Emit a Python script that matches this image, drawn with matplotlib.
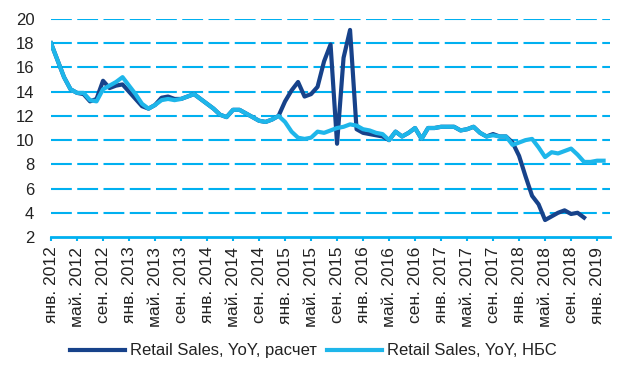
import matplotlib
matplotlib.use('Agg')
from matplotlib import pyplot as plt
import numpy as np

plt.rcParams['font.family'] = ['Liberation Sans', 'DejaVu Sans']

# monthly values, Jan 2012 onwards
nbs = [18.0, 16.6, 15.2, 14.2, 13.9, 13.9, 13.3, 13.2, 14.2, 14.5, 14.8, 15.2,
       14.5, 13.8, 13.0, 12.6, 12.9, 13.3, 13.4, 13.3, 13.4, 13.6, 13.8, 13.4,
       13.0, 12.6, 12.1, 11.9, 12.5, 12.5, 12.2, 11.9, 11.6, 11.5, 11.7, 12.0,
       11.5, 10.7, 10.2, 10.1, 10.2, 10.7, 10.6, 10.8, 11.0, 11.1, 11.3, 11.2,
       10.9, 10.8, 10.6, 10.5, 10.0, 10.7, 10.3, 10.6, 11.0, 10.1, 11.0, 11.0,
       11.1, 11.1, 11.1, 10.8, 10.9, 11.1, 10.6, 10.3, 10.4, 10.3, 10.3, 9.6,
       9.8, 10.0, 10.1, 9.4, 8.6, 9.0, 8.9, 9.1, 9.3, 8.8, 8.2, 8.2,
       8.3, 8.3]
calc = [18.0, 16.6, 15.2, 14.2, 13.9, 13.8, 13.2, 13.4, 14.9, 14.3, 14.5, 14.6,
        14.0, 13.4, 12.8, 12.6, 12.9, 13.5, 13.6, 13.4, 13.4, 13.6, 13.8, 13.4,
        13.0, 12.6, 12.1, 11.9, 12.5, 12.5, 12.2, 11.9, 11.6, 11.5, 11.7, 12.0,
        13.2, 14.1, 14.8, 13.6, 13.8, 14.4, 16.5, 17.9, 9.7, 16.8, 19.1, 10.9,
        10.6, 10.5, 10.4, 10.3, 10.0, 10.7, 10.3, 10.6, 11.0, 10.1, 11.0, 11.0,
        11.1, 11.1, 11.1, 10.8, 10.9, 11.1, 10.6, 10.3, 10.5, 10.3, 10.3, 9.8,
        8.7, 7.0, 5.4, 4.7, 3.4, 3.7, 4.0, 4.2, 3.9, 4.0, 3.6]

tick_labels = ['янв. 2012', 'май. 2012', 'сен. 2012', 'янв. 2013', 'май. 2013', 'сен. 2013',
               'янв. 2014', 'май. 2014', 'сен. 2014', 'янв. 2015', 'май. 2015', 'сен. 2015',
               'янв. 2016', 'май. 2016', 'сен. 2016', 'янв. 2017', 'май. 2017', 'сен. 2017',
               'янв. 2018', 'май. 2018', 'сен. 2018', 'янв. 2019']

dark = '#17428a'
light = '#1eb6ea'
grid_col = '#00b0f0'

fig = plt.figure(figsize=(6.2, 3.66), dpi=100)
ax = fig.add_axes([0.0823, 0.3525, 0.9017, 0.5955])

for y in range(4, 21, 2):
    gl, = ax.plot([0, 86], [y, y], color=grid_col, lw=1.5, zorder=1)
    gl.set_dashes([10, 2.6])

ax.plot(np.arange(len(calc)), calc, color=dark, lw=3, label='Retail Sales, YoY, расчет', zorder=3)
ax.plot(np.arange(len(nbs)), nbs, color=light, lw=3, label='Retail Sales, YoY, НБС', zorder=4)

ax.set_xlim(0, 86)
ax.set_ylim(2, 20)
ax.set_yticks(range(2, 21, 2))
ax.set_xticks(np.arange(0, 85, 4))
ax.set_xticklabels(tick_labels, rotation=90, fontsize=12.5, color='#222222')
ax.tick_params(axis='y', length=0, pad=12, labelsize=12, labelcolor='#222222')
ax.tick_params(axis='x', length=3, width=1.5, color=grid_col, pad=4)
for s in ['top', 'right', 'left']:
    ax.spines[s].set_visible(False)
ax.spines['bottom'].set_color(grid_col)
ax.spines['bottom'].set_linewidth(2)
for lab in ax.get_yticklabels():
    lab.set_ha('right')

fig.legend(loc='center', bbox_to_anchor=(0.505, 0.041), ncol=2, frameon=False,
           fontsize=12, handlelength=3.3, handletextpad=0.3, columnspacing=0.6,
           labelcolor='#222222')

fig.savefig('out.png', dpi=100)
